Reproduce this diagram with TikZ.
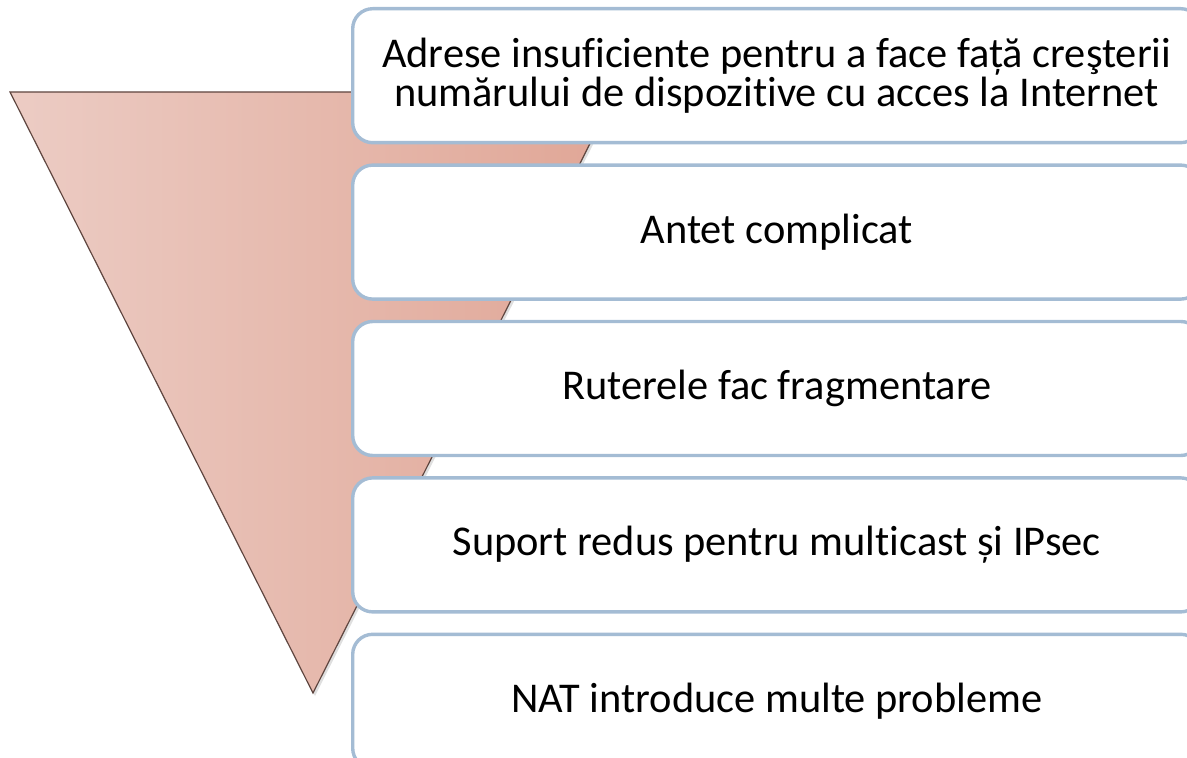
\documentclass[tikz,border=0pt]{standalone}
\usepackage{fontspec}
\setmainfont[Ligatures=NoCommon]{Carlito}
\usetikzlibrary{positioning}
\usetikzlibrary{shadows}

\definecolor{boxline}{RGB}{164,188,212}
\definecolor{funnelL}{RGB}{236,204,196}
\definecolor{funnelR}{RGB}{224,166,150}
\definecolor{funnelEdge}{RGB}{95,70,64}

\begin{document}
\begin{tikzpicture}[
x=0.5pt, y=-0.5pt,
itembox/.style={draw=boxline, line width=1.7pt, fill=white, rounded corners=10pt,
  minimum width=424pt, minimum height=67pt, inner sep=0pt, align=center,
  font=\fontsize{21.2}{18.5}\selectfont},
funnel/.style={draw=funnelEdge, line width=0.6pt, left color=funnelL, right color=funnelR,
  drop shadow={opacity=0.25, shadow xshift=1pt, shadow yshift=-1.5pt}}
]
\useasboundingbox (0,0) rectangle (1187,758);

%Funnel
\coordinate (ftl) at (10,92);
\coordinate (ftr) at (616,92);
\coordinate (fapex) at (313,693);
\path[funnel] (ftl) -- (ftr) -- (fapex) -- cycle;

%Boxes
\node[itembox, anchor=north west] (b1) at (351,7)
  {Adrese insuficiente pentru a face față creşterii\\numărului de dispozitive cu acces la Internet};
\node[itembox] (b2) [below=9.5pt of b1] {Antet complicat};
\node[itembox] (b3) [below=9.5pt of b2] {Ruterele fac fragmentare};
\node[itembox] (b4) [below=9.5pt of b3] {Suport redus pentru multicast și IPsec};
\node[itembox] (b5) [below=9.5pt of b4] {NAT introduce multe probleme};

\end{tikzpicture}
\end{document}
